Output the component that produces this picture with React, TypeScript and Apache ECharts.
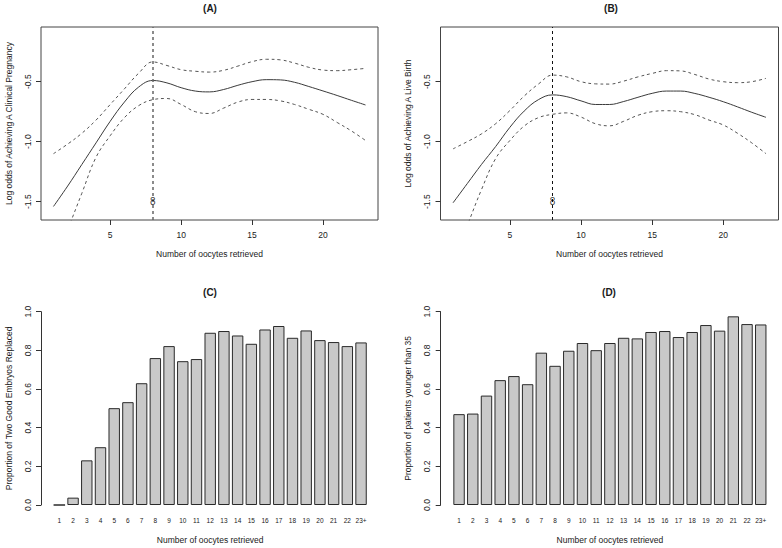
import React, { useEffect, useRef } from "react";
import * as echarts from "echarts";

// ---- Data ----
const oocytes = [1, 2, 3, 4, 5, 6, 7, 8, 9, 10, 11, 12, 13, 14, 15, 16, 17, 18, 19, 20, 21, 22, 23];

// Panel A: log odds of clinical pregnancy (fit, upper and lower bands)
const pregFit = [-1.54, -1.37, -1.19, -1.01, -0.83, -0.67, -0.545, -0.49, -0.51, -0.55, -0.578, -0.585, -0.565, -0.53, -0.5, -0.483, -0.485, -0.505, -0.54, -0.577, -0.615, -0.655, -0.694];
const pregUpper = [-1.1, -1.02, -0.93, -0.82, -0.69, -0.56, -0.43, -0.335, -0.365, -0.4, -0.413, -0.42, -0.405, -0.37, -0.333, -0.313, -0.318, -0.345, -0.38, -0.403, -0.408, -0.4, -0.389];
const pregLower = [-2.0, -1.73, -1.43, -1.13, -0.95, -0.8, -0.7, -0.65, -0.64, -0.69, -0.75, -0.765, -0.72, -0.67, -0.648, -0.648, -0.66, -0.69, -0.73, -0.772, -0.84, -0.91, -0.99];

// Panel B: log odds of live birth
const liveFit = [-1.51, -1.35, -1.19, -1.04, -0.88, -0.745, -0.65, -0.61, -0.625, -0.66, -0.69, -0.69, -0.665, -0.63, -0.597, -0.578, -0.578, -0.598, -0.63, -0.667, -0.71, -0.755, -0.797];
const liveUpper = [-1.06, -1.0, -0.935, -0.85, -0.74, -0.62, -0.52, -0.445, -0.46, -0.5, -0.518, -0.52, -0.495, -0.46, -0.431, -0.408, -0.41, -0.44, -0.478, -0.5, -0.508, -0.5, -0.472];
const liveLower = [-2.0, -1.7, -1.4, -1.14, -0.99, -0.87, -0.8, -0.772, -0.76, -0.795, -0.85, -0.868, -0.83, -0.78, -0.75, -0.742, -0.75, -0.775, -0.82, -0.861, -0.93, -1.01, -1.1];

const optimalOocytes = 8;
const optimalLabelY = -1.5;

// Panels C and D
const barCategories = ["1", "2", "3", "4", "5", "6", "7", "8", "9", "10", "11", "12", "13", "14", "15", "16", "17", "18", "19", "20", "21", "22", "23+"];
const twoGoodEmbryos = [0, 0.038, 0.231, 0.299, 0.501, 0.532, 0.63, 0.76, 0.822, 0.744, 0.755, 0.891, 0.9, 0.877, 0.834, 0.908, 0.926, 0.865, 0.903, 0.853, 0.843, 0.822, 0.841];
const youngerThan35 = [0.47, 0.473, 0.566, 0.646, 0.667, 0.625, 0.788, 0.72, 0.798, 0.838, 0.801, 0.838, 0.865, 0.862, 0.895, 0.9, 0.869, 0.895, 0.931, 0.902, 0.976, 0.936, 0.934];

// Tick labels
const curveXTicks = [5, 10, 15, 20];
const logOddsTicks = [-1.5, -1.0, -0.5];

const FONT = "Liberation Sans, Arial, Helvetica, sans-serif";
const INK = "#1a1a1a";

const pairs = (ys: number[]) => oocytes.map((x, i) => [x, ys[i]]);

function curveAxes(gridIndex: number, yName: string) {
  const xAxis = {
    type: "value",
    gridIndex,
    min: 0.12,
    max: 23.88,
    name: "Number of oocytes retrieved",
    nameLocation: "middle",
    nameGap: 29,
    nameTextStyle: { fontSize: 8.5, color: INK, fontFamily: FONT },
    axisLine: { show: false },
    axisTick: { show: true, length: 5, customValues: curveXTicks, lineStyle: { color: "#333" } },
    axisLabel: { customValues: curveXTicks, margin: 10, fontSize: 8.5, color: INK, fontFamily: FONT },
    splitLine: { show: false },
  };
  const yAxis = {
    type: "value",
    gridIndex,
    min: -1.653,
    max: -0.044,
    name: yName,
    nameLocation: "middle",
    nameGap: 28,
    nameTextStyle: { fontSize: 8.5, color: INK, fontFamily: FONT },
    axisLine: { show: false },
    axisTick: { show: true, length: 5, customValues: logOddsTicks, lineStyle: { color: "#333" } },
    axisLabel: {
      customValues: logOddsTicks,
      rotate: 90,
      margin: 9,
      fontSize: 8.5,
      color: INK,
      fontFamily: FONT,
      formatter: (v: number) => v.toFixed(1),
    },
    splitLine: { show: false },
  };
  return { xAxis, yAxis };
}

function barAxes(gridIndex: number, yName: string) {
  const xAxis = {
    type: "category",
    gridIndex,
    data: barCategories,
    name: "Number of oocytes retrieved",
    nameLocation: "middle",
    nameGap: 30,
    nameTextStyle: { fontSize: 8.5, color: INK, fontFamily: FONT },
    axisLine: { show: false },
    axisTick: { show: false },
    axisLabel: { interval: 0, margin: 12, fontSize: 6.5, color: "#222", fontFamily: FONT },
    splitLine: { show: false },
  };
  const yAxis = {
    type: "value",
    gridIndex,
    min: 0,
    max: 1,
    interval: 0.2,
    offset: 11.5,
    name: yName,
    nameLocation: "middle",
    nameGap: 28,
    nameTextStyle: { fontSize: 8.5, color: INK, fontFamily: FONT },
    axisLine: { show: true, lineStyle: { color: "#333", width: 1 } },
    axisTick: { show: true, length: 5, lineStyle: { color: "#333" } },
    axisLabel: {
      rotate: 90,
      margin: 9,
      fontSize: 8.5,
      color: INK,
      fontFamily: FONT,
      formatter: (v: number) => v.toFixed(1),
    },
    splitLine: { show: false },
  };
  return { xAxis, yAxis };
}

function curveSeries(idx: number, fit: number[], upper: number[], lower: number[], vColor: string, vWidth: number) {
  const solid = {
    type: "line",
    xAxisIndex: idx,
    yAxisIndex: idx,
    data: pairs(fit),
    smooth: 0.4,
    symbol: "none",
    clip: true,
    lineStyle: { color: "#3a3a3a", width: 1 },
    markLine: {
      silent: true,
      symbol: "none",
      label: { show: false },
      lineStyle: { color: vColor, width: vWidth, type: [3, 3] },
      data: [{ xAxis: optimalOocytes }],
    },
  };
  const dashed = (ys: number[]) => ({
    type: "line",
    xAxisIndex: idx,
    yAxisIndex: idx,
    data: pairs(ys),
    smooth: 0.4,
    symbol: "none",
    clip: true,
    lineStyle: { color: "#555", width: 1, type: [3, 3] },
  });
  const label = {
    type: "scatter",
    xAxisIndex: idx,
    yAxisIndex: idx,
    z: 10,
    data: [[optimalOocytes, optimalLabelY]],
    symbolSize: 2,
    itemStyle: { color: "rgba(255,255,255,0)" },
    label: {
      show: true,
      position: [1, 1],
      align: "center",
      verticalAlign: "middle",
      formatter: String(optimalOocytes),
      fontSize: 10,
      color: "#000",
      textBorderWidth: 0,
      fontFamily: FONT,
    },
  };
  return [solid, dashed(upper), dashed(lower), label];
}

function barSeries(idx: number, values: number[]) {
  return {
    type: "bar",
    xAxisIndex: idx,
    yAxisIndex: idx,
    data: values,
    barCategoryGap: "16.67%",
    itemStyle: { color: "#c9c9c9", borderColor: "#2a2a2a", borderWidth: 1 },
  };
}

const panelTitle = (text: string, x: number, y: number) => ({
  type: "text",
  x,
  y,
  style: {
    text,
    align: "center",
    verticalAlign: "middle",
    fontSize: 10,
    fontWeight: "bold",
    fontFamily: FONT,
    fill: INK,
  },
});

export default function App() {
  const ref = useRef<HTMLDivElement>(null);

  useEffect(() => {
    if (!ref.current) return;
    const chart = echarts.init(ref.current, null, { renderer: "svg" });

    const a = curveAxes(0, "Log odds of Achieving A Clinical Pregnancy");
    const b = curveAxes(1, "Log odds of Achieving A Live Birth");
    const c = barAxes(2, "Proportion of Two Good Embryos Replaced");
    const d = barAxes(3, "Proportion of patients younger than 35");

    const option: any = {
      animation: false,
      backgroundColor: "#ffffff",
      textStyle: { fontFamily: FONT },
      grid: [
        { left: 41, top: 27, width: 337, height: 193, show: true, borderColor: "#444", borderWidth: 1, backgroundColor: "transparent" },
        { left: 440.5, top: 27, width: 338, height: 193, show: true, borderColor: "#444", borderWidth: 1, backgroundColor: "transparent" },
        { left: 52.5, top: 311.7, width: 315.4, height: 193.3 },
        { left: 452.2, top: 311.7, width: 315.4, height: 193.3 },
      ],
      xAxis: [a.xAxis, b.xAxis, c.xAxis, d.xAxis],
      yAxis: [a.yAxis, b.yAxis, c.yAxis, d.yAxis],
      series: [
        ...curveSeries(0, pregFit, pregUpper, pregLower, "#666", 1.5),
        ...curveSeries(1, liveFit, liveUpper, liveLower, "#111", 1),
        barSeries(2, twoGoodEmbryos),
        barSeries(3, youngerThan35),
      ],
      graphic: [
        panelTitle("(A)", 210, 8),
        panelTitle("(B)", 611, 8),
        panelTitle("(C)", 210, 292),
        panelTitle("(D)", 609, 292),
      ],
    };

    chart.setOption(option);
    return () => chart.dispose();
  }, []);

  return <div ref={ref} style={{ position: "absolute", left: 0, top: 0, width: 782, height: 548 }} />;
}
